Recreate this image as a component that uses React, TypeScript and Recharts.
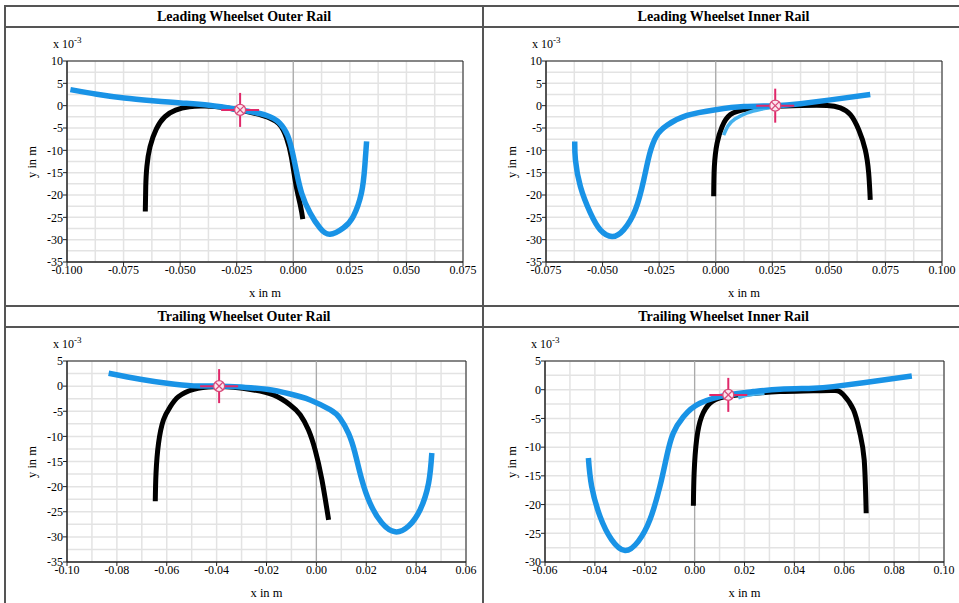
import React from 'react';
import {
  ComposedChart,
  Line,
  Scatter,
  XAxis,
  YAxis,
  CartesianGrid,
  ReferenceLine,
  ReferenceArea,
} from 'recharts';

// ---------- tick labels ----------
const TL_X_TICKS = [-0.1, -0.075, -0.05, -0.025, 0, 0.025, 0.05, 0.075];
const TR_X_TICKS = [-0.075, -0.05, -0.025, 0, 0.025, 0.05, 0.075, 0.1];
const BL_X_TICKS = [-0.1, -0.08, -0.06, -0.04, -0.02, 0, 0.02, 0.04, 0.06];
const BR_X_TICKS = [-0.06, -0.04, -0.02, 0, 0.02, 0.04, 0.06, 0.08, 0.1];
const TOP_Y_TICKS = [-35, -30, -25, -20, -15, -10, -5, 0, 5, 10];
const BL_Y_TICKS = [-35, -30, -25, -20, -15, -10, -5, 0, 5];
const BR_Y_TICKS = [-30, -25, -20, -15, -10, -5, 0, 5];

// ---------- Leading wheelset outer rail ----------
const TL_BLACK = [
  { x: -0.0654, y: -23.7 }, { x: -0.0652, y: -18.1 }, { x: -0.0647, y: -13.6 },
  { x: -0.0633, y: -9.2 }, { x: -0.0605, y: -5.2 }, { x: -0.0568, y: -2.5 },
  { x: -0.052, y: -1.0 }, { x: -0.046, y: -0.25 }, { x: -0.039, y: -0.1 },
  { x: -0.03, y: -0.45 }, { x: -0.0235, y: -1.0 }, { x: -0.0135, y: -2.2 },
  { x: -0.0065, y: -4.0 }, { x: -0.003, y: -7.2 }, { x: -0.0008, y: -11.6 },
  { x: 0.0012, y: -17.8 }, { x: 0.0032, y: -22.5 }, { x: 0.0042, y: -25.4 },
];
const TL_BLUE = [
  { x: -0.0985, y: 3.6 }, { x: -0.0868, y: 2.55 }, { x: -0.0747, y: 1.7 },
  { x: -0.0622, y: 1.1 }, { x: -0.0497, y: 0.6 }, { x: -0.0372, y: 0.1 },
  { x: -0.0235, y: -0.95 }, { x: -0.0122, y: -2.1 }, { x: -0.006, y: -3.9 },
  { x: -0.0025, y: -6.7 }, { x: -0.0003, y: -10.6 }, { x: 0.0015, y: -15.0 },
  { x: 0.0037, y: -19.6 }, { x: 0.0074, y: -24.0 }, { x: 0.0118, y: -27.4 },
  { x: 0.0162, y: -28.8 }, { x: 0.0221, y: -27.4 }, { x: 0.0265, y: -24.8 },
  { x: 0.0301, y: -19.6 }, { x: 0.0316, y: -13.6 }, { x: 0.0324, y: -8.0 },
];
const TL_MARKER = [{ x: -0.0235, y: -0.95 }];

// ---------- Leading wheelset inner rail ----------
const TR_BLACK = [
  { x: -0.0009, y: -20.3 }, { x: -0.0006, y: -13.6 }, { x: 0.0006, y: -8.4 },
  { x: 0.0028, y: -4.7 }, { x: 0.0065, y: -2.0 }, { x: 0.0139, y: -0.75 },
  { x: 0.0256, y: -0.15 }, { x: 0.0374, y: 0.05 }, { x: 0.0492, y: 0.05 },
  { x: 0.0551, y: -0.5 }, { x: 0.0595, y: -2.0 }, { x: 0.0632, y: -5.4 },
  { x: 0.0661, y: -9.9 }, { x: 0.0676, y: -15.1 }, { x: 0.0683, y: -21.1 },
];
const TR_BLUE = [
  { x: -0.0623, y: -8.0 }, { x: -0.062, y: -12.1 }, { x: -0.0598, y: -18.1 },
  { x: -0.0554, y: -24.0 }, { x: -0.051, y: -27.8 }, { x: -0.0458, y: -29.3 },
  { x: -0.0407, y: -27.8 }, { x: -0.0355, y: -23.3 }, { x: -0.0318, y: -16.6 },
  { x: -0.0292, y: -10.8 }, { x: -0.0262, y: -6.8 }, { x: -0.0215, y: -4.4 },
  { x: -0.0127, y: -2.2 }, { x: 0.0, y: -0.9 }, { x: 0.0124, y: -0.2 },
  { x: 0.0263, y: 0.0 }, { x: 0.0374, y: 0.45 }, { x: 0.0507, y: 1.3 },
  { x: 0.0683, y: 2.5 },
];
const TR_BLUE_SHORT = [
  { x: 0.0035, y: -6.6 }, { x: 0.0055, y: -4.5 }, { x: 0.0085, y: -3.0 },
  { x: 0.014, y: -1.6 }, { x: 0.02, y: -0.8 }, { x: 0.025, y: -0.3 },
];
const TR_MARKER = [{ x: 0.0263, y: 0.0 }];

// ---------- Trailing wheelset outer rail ----------
const BL_BLACK = [
  { x: -0.0646, y: -22.9 }, { x: -0.0643, y: -17.3 }, { x: -0.0633, y: -11.4 },
  { x: -0.0613, y: -6.7 }, { x: -0.0586, y: -4.1 }, { x: -0.0553, y: -2.1 },
  { x: -0.0492, y: -0.63 }, { x: -0.0412, y: -0.1 }, { x: -0.0332, y: -0.23 },
  { x: -0.0252, y: -0.76 }, { x: -0.0172, y: -1.75 }, { x: -0.0105, y: -3.74 },
  { x: -0.0065, y: -5.7 }, { x: -0.0032, y: -8.7 }, { x: -0.0005, y: -12.7 },
  { x: 0.0022, y: -18.6 }, { x: 0.0049, y: -26.6 },
];
const BL_BLUE = [
  { x: -0.0833, y: 2.55 }, { x: -0.0706, y: 1.36 }, { x: -0.0599, y: 0.56 },
  { x: -0.0492, y: 0.05 }, { x: -0.0388, y: 0.0 }, { x: -0.0292, y: -0.23 },
  { x: -0.0199, y: -0.63 }, { x: -0.0105, y: -1.56 }, { x: -0.0025, y: -2.75 },
  { x: 0.0055, y: -4.7 }, { x: 0.0095, y: -6.4 }, { x: 0.0129, y: -9.4 },
  { x: 0.0155, y: -13.3 }, { x: 0.0182, y: -18.6 }, { x: 0.0215, y: -23.3 },
  { x: 0.0262, y: -27.2 }, { x: 0.0316, y: -29.0 }, { x: 0.0369, y: -27.9 },
  { x: 0.0416, y: -24.6 }, { x: 0.045, y: -19.3 }, { x: 0.0463, y: -13.3 },
];
const BL_MARKER = [{ x: -0.039, y: 0.0 }];

// ---------- Trailing wheelset inner rail ----------
const BR_BLACK = [
  { x: -0.0005, y: -20.2 }, { x: -0.0002, y: -14.5 }, { x: 0.0008, y: -8.7 },
  { x: 0.0028, y: -4.7 }, { x: 0.0062, y: -2.35 }, { x: 0.0115, y: -1.3 },
  { x: 0.0209, y: -0.74 }, { x: 0.0342, y: -0.33 }, { x: 0.0476, y: -0.2 },
  { x: 0.0563, y: -0.15 }, { x: 0.0597, y: -0.9 }, { x: 0.0637, y: -3.5 },
  { x: 0.0663, y: -7.6 }, { x: 0.068, y: -12.2 }, { x: 0.0688, y: -21.5 },
];
const BR_BLUE = [
  { x: -0.0426, y: -11.9 }, { x: -0.0413, y: -16.8 }, { x: -0.0379, y: -22.1 },
  { x: -0.0333, y: -26.1 }, { x: -0.0279, y: -28.0 }, { x: -0.0226, y: -26.4 },
  { x: -0.0179, y: -22.6 }, { x: -0.0139, y: -16.8 }, { x: -0.0112, y: -11.6 },
  { x: -0.0086, y: -7.6 }, { x: -0.0045, y: -4.7 }, { x: 0.0021, y: -2.35 },
  { x: 0.0135, y: -0.9 }, { x: 0.0235, y: -0.33 }, { x: 0.0342, y: 0.08 },
  { x: 0.0476, y: 0.25 }, { x: 0.0556, y: 0.54 }, { x: 0.0677, y: 1.23 },
  { x: 0.0871, y: 2.4 },
];
const BR_BLUE_SHORT = [
  { x: 0.0175, y: -1.4 }, { x: 0.022, y: -0.9 }, { x: 0.028, y: -0.6 },
];
const BR_MARKER = [{ x: 0.0135, y: -0.9 }];

const BLUE = '#1993e6';
const LIGHT_BLUE = '#45b2ee';
const PINK = '#e0286a';
const SERIF = '"Liberation Serif", "Times New Roman", Times, serif';

const withMid = (t: number[]) => {
  const out: number[] = [];
  for (let i = 0; i < t.length; i++) {
    out.push(t[i]);
    if (i < t.length - 1) out.push((t[i] + t[i + 1]) / 2);
  }
  return out;
};

const Marker = (props: any) => {
  const { cx, cy } = props;
  if (cx == null || cy == null) return null;
  const r = 5.5;
  const d = r * 0.7;
  return (
    <g>
      <line x1={cx - 19} y1={cy} x2={cx + 19} y2={cy} stroke={PINK} strokeWidth={2} />
      <line x1={cx} y1={cy - 17} x2={cx} y2={cy + 17} stroke={PINK} strokeWidth={2} />
      <circle cx={cx} cy={cy} r={r} fill="#fbe6ee" stroke="#d84a7a" strokeWidth={1.3} />
      <line x1={cx - d} y1={cy - d} x2={cx + d} y2={cy + d} stroke="#d84a7a" strokeWidth={1.2} />
      <line x1={cx - d} y1={cy + d} x2={cx + d} y2={cy - d} stroke="#d84a7a" strokeWidth={1.2} />
    </g>
  );
};

type Panel = {
  title: string;
  left: number;
  top: number;
  width: number;
  plot: { l: number; r: number; t: number; b: number };
  xTicks: number[];
  yTicks: number[];
  xDigits: number;
  black: { x: number; y: number }[];
  blue: { x: number; y: number }[];
  blueShort: { x: number; y: number }[] | null;
  marker: { x: number; y: number }[];
};

const PANELS: Panel[] = [
  {
    title: 'Leading Wheelset Outer Rail', left: 0, top: 0, width: 480,
    plot: { l: 67, r: 463, t: 61, b: 262 }, xTicks: TL_X_TICKS, yTicks: TOP_Y_TICKS, xDigits: 3,
    black: TL_BLACK, blue: TL_BLUE, blueShort: null, marker: TL_MARKER,
  },
  {
    title: 'Leading Wheelset Inner Rail', left: 480, top: 0, width: 479,
    plot: { l: 546, r: 942, t: 61, b: 262 }, xTicks: TR_X_TICKS, yTicks: TOP_Y_TICKS, xDigits: 3,
    black: TR_BLACK, blue: TR_BLUE, blueShort: TR_BLUE_SHORT, marker: TR_MARKER,
  },
  {
    title: 'Trailing Wheelset Outer Rail', left: 0, top: 300, width: 480,
    plot: { l: 67, r: 466, t: 361, b: 562 }, xTicks: BL_X_TICKS, yTicks: BL_Y_TICKS, xDigits: 2,
    black: BL_BLACK, blue: BL_BLUE, blueShort: null, marker: BL_MARKER,
  },
  {
    title: 'Trailing Wheelset Inner Rail', left: 480, top: 300, width: 479,
    plot: { l: 545, r: 944, t: 361, b: 562 }, xTicks: BR_X_TICKS, yTicks: BR_Y_TICKS, xDigits: 2,
    black: BR_BLACK, blue: BR_BLUE, blueShort: BR_BLUE_SHORT, marker: BR_MARKER,
  },
];

const YAW = 30;
const XAH = 24;
const CH = 300;

const tickStyle = { fontFamily: SERIF, fontSize: 12, fill: '#000' };

const PanelChart = ({ p }: { p: Panel }) => {
  const xMin = p.xTicks[0];
  const xMax = p.xTicks[p.xTicks.length - 1];
  const yMin = p.yTicks[0];
  const yMax = p.yTicks[p.yTicks.length - 1];
  const margin = {
    left: p.plot.l - p.left - YAW,
    right: p.left + p.width - p.plot.r,
    top: p.plot.t - p.top,
    bottom: p.top + CH - p.plot.b - XAH,
  };
  const midX = (p.plot.l + p.plot.r) / 2;
  return (
    <>
      <div style={{ position: 'absolute', left: p.left, top: p.top, width: p.width, height: CH }}>
        <ComposedChart width={p.width} height={CH} margin={margin}>
          <CartesianGrid
            stroke="#e3e3e3"
            strokeWidth={1.5}
            verticalValues={withMid(p.xTicks)}
            horizontalValues={withMid(p.yTicks)}
          />
          <XAxis
            type="number"
            dataKey="x"
            domain={[xMin, xMax]}
            ticks={p.xTicks}
            interval={0}
            allowDataOverflow
            height={XAH}
            tick={tickStyle}
            tickSize={4}
            tickMargin={-1}
            tickFormatter={(v: number) => v.toFixed(p.xDigits)}
            axisLine={{ stroke: '#222' }}
            tickLine={{ stroke: '#222' }}
          />
          <YAxis
            type="number"
            dataKey="y"
            domain={[yMin, yMax]}
            ticks={p.yTicks}
            interval={0}
            allowDataOverflow
            width={YAW}
            tick={tickStyle}
            tickSize={4}
            tickMargin={0}
            axisLine={{ stroke: '#222' }}
            tickLine={{ stroke: '#222' }}
          />
          <ReferenceLine x={0} stroke="#a8a8a8" strokeWidth={1.2} />
          <ReferenceArea x1={xMin} x2={xMax} y1={yMin} y2={yMax} fill="none" stroke="#222" strokeWidth={1} />
          <Line
            data={p.black}
            dataKey="y"
            type="natural"
            stroke="#000"
            strokeWidth={5}
            dot={false}
            activeDot={false}
            isAnimationActive={false}
          />
          {p.blueShort && (
            <Line
              data={p.blueShort}
              dataKey="y"
              type="natural"
              stroke={LIGHT_BLUE}
              strokeWidth={3.5}
              dot={false}
              activeDot={false}
              isAnimationActive={false}
            />
          )}
          <Line
            data={p.blue}
            dataKey="y"
            type="natural"
            stroke={BLUE}
            strokeWidth={5.5}
            dot={false}
            activeDot={false}
            isAnimationActive={false}
          />
          <Scatter data={p.marker} dataKey="y" shape={<Marker />} isAnimationActive={false} />
        </ComposedChart>
      </div>
      {/* title */}
      <div
        style={{
          position: 'absolute', left: p.left + 5, top: p.top + 6, width: p.width - 2, height: 21,
          display: 'flex', alignItems: 'center', justifyContent: 'center',
          fontFamily: SERIF, fontWeight: 'bold', fontSize: 14, color: '#000',
        }}
      >
        {p.title}
      </div>
      {/* exponent label */}
      <div
        style={{
          position: 'absolute', left: p.plot.l - 14, top: p.plot.t - 24,
          fontFamily: SERIF, fontSize: 12, color: '#000', whiteSpace: 'nowrap', lineHeight: '14px',
        }}
      >
        x 10<sup style={{ fontSize: 9, verticalAlign: 'super', lineHeight: 0 }}>-3</sup>
      </div>
      {/* y label */}
      <div
        style={{
          position: 'absolute', left: p.left + 32 - 30, top: (p.plot.t + p.plot.b) / 2 - 7,
          width: 60, textAlign: 'center', transform: 'rotate(-90deg)',
          fontFamily: SERIF, fontSize: 12.5, color: '#000', lineHeight: '14px',
        }}
      >
        y in m
      </div>
      {/* x label */}
      <div
        style={{
          position: 'absolute', left: midX - 40, top: p.plot.b + 24, width: 80, textAlign: 'center',
          fontFamily: SERIF, fontSize: 12.5, color: '#000', lineHeight: '14px',
        }}
      >
        x in m
      </div>
    </>
  );
};

const line = (style: React.CSSProperties) => (
  <div style={{ position: 'absolute', background: '#555', ...style }} />
);

export default function App() {
  return (
    <div
      style={{
        position: 'absolute', left: 0, top: 0, width: 959, height: 603,
        overflow: 'hidden', background: '#fff',
      }}
    >
      {PANELS.map((p) => (
        <PanelChart key={p.title} p={p} />
      ))}
      {line({ left: 4, top: 5, width: 960, height: 2 })}
      {line({ left: 4, top: 25.5, width: 960, height: 2 })}
      {line({ left: 4, top: 304.5, width: 960, height: 2 })}
      {line({ left: 4, top: 326, width: 960, height: 2 })}
      {line({ left: 4, top: 5, width: 2, height: 600 })}
      {line({ left: 482, top: 5, width: 2, height: 600 })}
    </div>
  );
}
